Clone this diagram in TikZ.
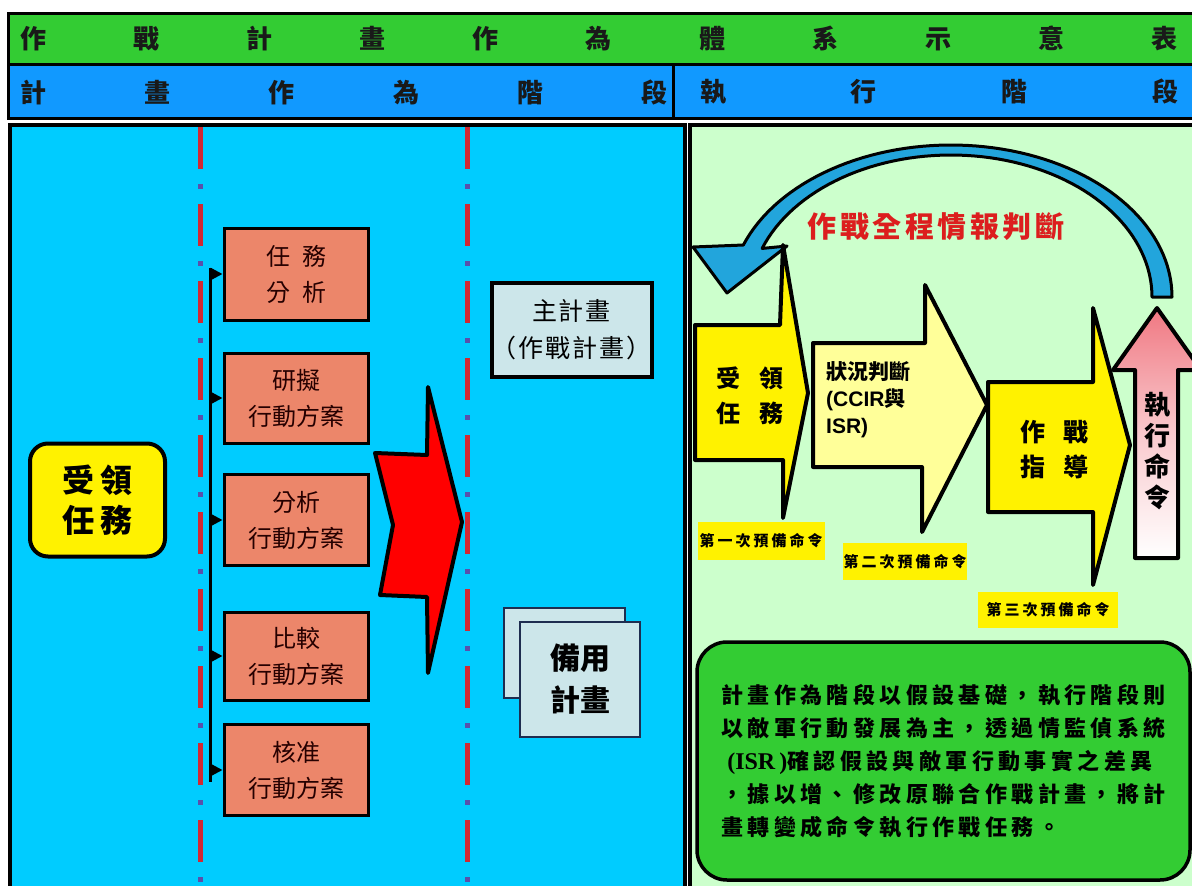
\documentclass[tikz,border=0pt]{standalone}
\usepackage{fontspec}
\setmainfont{Noto Sans CJK TC}
\newfontfamily\cjksp[LetterSpace=20]{Noto Sans CJK TC}
\newfontfamily\cjkred[LetterSpace=12]{Noto Sans CJK TC}
\newfontfamily\cjkwide[LetterSpace=8]{Noto Sans CJK TC}
\newfontfamily\arialb{Liberation Sans}
\newfontfamily\timesr{Liberation Serif}
\usetikzlibrary{arrows.meta}
\definecolor{hgreen}{RGB}{51,204,51}
\definecolor{hblue}{RGB}{17,153,255}
\definecolor{lcyan}{RGB}{0,204,255}
\definecolor{lgreen}{RGB}{204,255,204}
\definecolor{salmon}{RGB}{236,134,106}
\definecolor{pgrey}{RGB}{204,230,234}
\definecolor{dashred}{RGB}{210,40,50}
\definecolor{dotblue}{RGB}{90,80,170}
\definecolor{arcblue}{RGB}{34,165,220}
\definecolor{ltyellow}{RGB}{255,255,153}
\definecolor{titlered}{RGB}{220,30,30}
\definecolor{pinkarrow}{RGB}{240,120,130}
\definecolor{boxgreen}{RGB}{51,204,51}
\definecolor{pagenavy}{RGB}{30,45,80}
\newcommand\fsz[2]{\fontsize{#1}{#2}\selectfont}
\tikzset{
  htext/.style={inner sep=0pt, font=\fsz{26}{30}\bfseries, text=black!90},
  band/.style={draw=black, line width=3pt},
  obox/.style={draw=black, line width=3pt, fill=salmon, minimum width=144pt, inner sep=0pt, align=center, font=\fsz{24}{36}, text=black!85!red},
  brarrow/.style={-{Triangle[length=12pt,width=12pt]}, line width=2.5pt},
  shapeline/.style={draw=black, line width=4pt, line join=round},
  redline/.style={dashred, line width=5pt, dash pattern=on 42pt off 35pt},
  dotline/.style={dotblue, line width=5pt, dash pattern=on 5pt off 72pt, dash phase=20pt},
  page/.style={draw=pagenavy, line width=2.5pt, fill=pgrey},
  hilite/.style={fill=yellow, inner sep=0pt, font=\cjksp\fsz{15}{18}\bfseries},
}
\begin{document}
\begin{tikzpicture}[x=1pt,y=-1pt]
\useasboundingbox (0,0) rectangle (1192,886);
\clip (0,0) rectangle (1192,886);
\fill[white] (0,0) rectangle (1192,886);
% header bands
\draw[band, fill=hgreen] (8,13) rectangle (1210,64);
\draw[band, fill=hblue] (8,64) rectangle (1210,118);
\coordinate (divtop) at (673,64);
\coordinate (divbot) at (673,118);
\draw[line width=3pt] (divtop) -- (divbot);
\node[htext] (title) at (599,38) {\makebox[1158pt][s]{作\hfill 戰\hfill 計\hfill 畫\hfill 作\hfill 為\hfill 體\hfill 系\hfill 示\hfill 意\hfill 表}};
\node[htext] (plan) at (344,92) {\makebox[648pt][s]{計\hfill 畫\hfill 作\hfill 為\hfill 階\hfill 段}};
\node[htext] (exec) at (939,92) {\makebox[478pt][s]{執\hfill 行\hfill 階\hfill 段}};
% panels
\draw[line width=4pt, fill=lcyan] (10,125) rectangle (685,900);
\draw[line width=4pt, fill=lgreen] (690,125) rectangle (1210,900);
% dash-dot separators
\coordinate (d1a) at (200,127); \coordinate (d1b) at (200,886);
\coordinate (d2a) at (467,127); \coordinate (d2b) at (467,886);
\draw[redline] (d1a) -- (d1b);
\draw[dotline] (d1a) -- (d1b);
\draw[redline] (d2a) -- (d2b);
\draw[dotline] (d2a) -- (d2b);
% receive mission box
\node[draw=black, line width=4pt, fill=yellow, rounded corners=18pt, minimum width=135pt, minimum height=113pt, align=center, font=\fsz{32}{40}\bfseries] (recv) at (97.5,500) {受\hspace{6pt}領\\任\hspace{6pt}務};
% orange boxes
\node[obox, minimum height=92pt] (b1) at (296,274) {任\hspace{12pt}務\\分\hspace{12pt}析};
\node[obox, minimum height=90pt] (b2) at (296,398) {研擬\\行動方案};
\node[obox, minimum height=91pt] (b3) at (296,520) {分析\\行動方案};
\node[obox, minimum height=88pt] (b4) at (296,656) {比較\\行動方案};
\node[obox, minimum height=91pt] (b5) at (296,770) {核准\\行動方案};
% bracket
\coordinate (brtop) at (210,268);
\coordinate (brbot) at (210,782);
\draw[line width=3pt] (brtop) -- (brbot);
\foreach \b in {b1,b2,b3,b4,b5}{
  \draw[brarrow] (\b.west -| brtop) -- (\b.west);
}
% red arrow
\draw[shapeline, fill=red] (375,453) -- (427,455) -- (428,387) -- (462,522) -- (428,673) -- (427,597) -- (380,595) -- (393,525) -- cycle;
% master plan
\node[draw=black, line width=4pt, fill=pgrey, minimum width=157pt, minimum height=94pt, inner sep=0pt, align=center, font=\cjkwide\fsz{25}{37}] (master) at (571.5,330) {主計畫\\（作戰計畫）};
% backup plan pages
\node[page, minimum width=121pt, minimum height=90pt] (backpage) at (564.5,653) {};
\node[page, minimum width=120pt, minimum height=115pt, align=center, font=\fsz{30}{42}\bfseries] (backup) at (580,679.5) {備用\\計畫};
% ---- right panel ----
% blue curved arrow
\filldraw[fill=arcblue, draw=black, line width=3pt, line join=round]
  plot[domain=0:160, samples=70] ({951+221*cos(\x)},{297-152*sin(\x)})
  -- (693,247) -- (727,293) -- (787,246)
  -- plot[domain=160:0, samples=70] ({951+201*cos(\x)},{297-142*sin(\x)}) -- cycle;
\node[font=\cjkred\fsz{29}{32}\bfseries, text=titlered, inner sep=0pt] (intel) at (936,227) {作戰全程情報判斷};
% yellow arrows
\draw[shapeline, fill=ltyellow] (813,343) -- (925,343) -- (925,285) -- (987,405) -- (922,532) -- (922,467) -- (813,467) -- cycle;
\draw[shapeline, fill=yellow] (695,325) -- (780,325) -- (783,245) -- (808,393) -- (783,518) -- (783,460) -- (695,460) -- cycle;
\draw[shapeline, fill=yellow] (988,382) -- (1093,382) -- (1093,308) -- (1130,445) -- (1093,585) -- (1093,512) -- (988,512) -- cycle;
\shade[top color=pinkarrow, bottom color=white, middle color=pinkarrow!40] (1135,558) -- (1135,370) -- (1113,370) -- (1157,308) -- (1201,370) -- (1178,370) -- (1178,558) -- cycle;
\draw[shapeline] (1135,558) -- (1135,370) -- (1113,370) -- (1157,308) -- (1201,370) -- (1178,370) -- (1178,558) -- cycle;
\node[align=center, font=\fsz{24}{35}\bfseries, inner sep=0pt] (a1) at (750,396) {受\hspace{20pt}領\\任\hspace{20pt}務};
\node[align=left, anchor=west, font=\fsz{21}{27}\bfseries, inner sep=0pt] (a2) at (826,400) {狀況判斷\\{\arialb\bfseries (CCIR}與\\{\arialb\bfseries ISR)}};
\node[align=center, font=\fsz{25}{35}\bfseries, inner sep=0pt] (a3) at (1054,450) {作\hspace{18pt}戰\\指\hspace{18pt}導};
\node[align=center, font=\fsz{26}{31}\bfseries, inner sep=0pt] (a4) at (1157,451) {執\\行\\命\\令};
% warning order labels
\node[hilite, minimum width=127pt, minimum height=38pt] (w1) at (761,541) {第一次預備命令};
\node[hilite, minimum width=124pt, minimum height=37pt] (w2) at (905,561.5) {第二次預備命令};
\node[hilite, minimum width=140pt, minimum height=36pt] (w3) at (1048,610) {第三次預備命令};
% summary box
\node[draw=black, line width=3.5pt, fill=boxgreen, rounded corners=30pt, minimum width=493pt, minimum height=238pt, align=left, font=\cjksp\fsz{22}{33}\bfseries, inner sep=0pt] (summary) at (943.5,761) {計畫作為階段以假設基礎，執行階段則\\以敵軍行動發展為主，透過情監偵系統\\\hspace{6pt}{\timesr\fsz{24}{33}(ISR\,)}確認假設與敵軍行動事實之差異\\，據以增、修改原聯合作戰計畫，將計\\畫轉變成命令執行作戰任務。};
\end{tikzpicture}
\end{document}
